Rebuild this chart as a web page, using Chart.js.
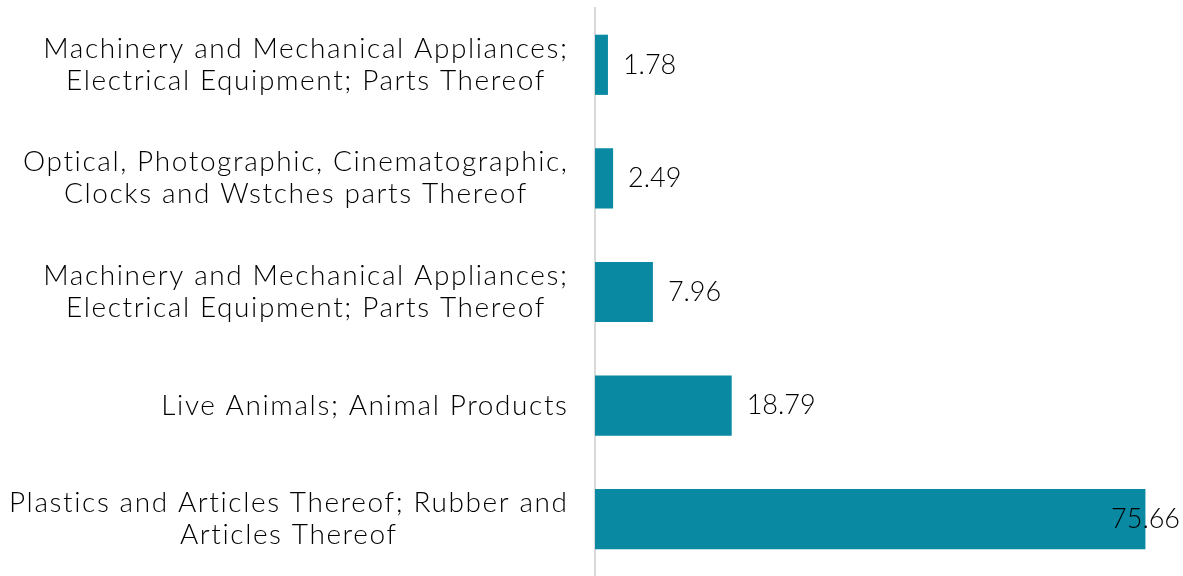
<!DOCTYPE html>
<html>
<head>
<meta charset="utf-8">
<script src="https://cdn.jsdelivr.net/npm/chart.js@4"></script>
<style>
  html, body { margin: 0; padding: 0; background: #fff; }
  #wrap { width: 1183px; height: 576px; position: relative; }
</style>
</head>
<body>
<div id="wrap"><canvas id="myChart"></canvas></div>
<script>
// data
var categories = [
  ["Machinery and Mechanical Appliances;", "Electrical Equipment; Parts Thereof"],
  ["Optical, Photographic, Cinematographic,", "Clocks and Wstches parts Thereof"],
  ["Machinery and Mechanical Appliances;", "Electrical Equipment; Parts Thereof"],
  ["Live Animals; Animal Products"],
  ["Plastics and Articles Thereof; Rubber and", "Articles Thereof"]
];
var values = [1.78, 2.49, 7.96, 18.79, 75.66];
var valueLabels = ["1.78", "2.49", "7.96", "18.79", "75.66"];

var barColor = "#0a89a3";
var textColor = "#000";
var labelFont = "300 28px Lato, 'Open Sans', sans-serif";
var valueFont = "300 27px Lato, 'Open Sans', sans-serif";
var spacing = 1.6;
var lineHeight = 32;

// category labels: block right-aligned to the axis, lines centred inside the block
var labelPlugin = {
  id: "labels",
  afterDraw: function (chart) {
    var ctx = chart.ctx;
    var yScale = chart.scales.y;
    var right = chart.chartArea.left - 28;
    ctx.save();
    ctx.font = labelFont;
    ctx.letterSpacing = spacing + "px";
    ctx.fillStyle = textColor;
    ctx.textAlign = "left";
    ctx.textBaseline = "middle";
    categories.forEach(function (lines, i) {
      var y = yScale.getPixelForValue(i);
      var widths = lines.map(function (l) { return ctx.measureText(l).width - spacing; });
      var widest = Math.max.apply(null, widths);
      var cx = right - widest / 2;
      lines.forEach(function (l, j) {
        ctx.fillText(l, cx - widths[j] / 2, y + (j - (lines.length - 1) / 2) * lineHeight);
      });
    });

    // value labels next to the bars
    var meta = chart.getDatasetMeta(0);
    ctx.font = valueFont;
    ctx.letterSpacing = "0px";
    meta.data.forEach(function (bar, i) {
      var t = valueLabels[i];
      var w = ctx.measureText(t).width;
      var x = bar.x + 15;
      if (x + w > chart.width - 3) x = chart.width - 3 - w;
      ctx.fillText(t, x, bar.y);
    });
    ctx.restore();
  }
};

new Chart("myChart", {
  type: "bar",
  data: {
    labels: categories,
    datasets: [{
      data: values,
      backgroundColor: barColor,
      barPercentage: 0.53,
      categoryPercentage: 1
    }]
  },
  options: {
    indexAxis: "y",
    responsive: true,
    maintainAspectRatio: false,
    animation: false,
    layout: { padding: { top: 8, right: 6, bottom: 0, left: 0 } },
    plugins: {
      legend: { display: false },
      tooltip: { enabled: false }
    },
    scales: {
      x: {
        display: false,
        min: 0,
        max: 80
      },
      y: {
        grid: { display: false },
        border: { display: true, color: "#d9d9d9", width: 2 },
        ticks: { display: false },
        afterFit: function (s) { s.width = 595; }
      }
    }
  },
  plugins: [labelPlugin]
});
</script>
</body>
</html>
